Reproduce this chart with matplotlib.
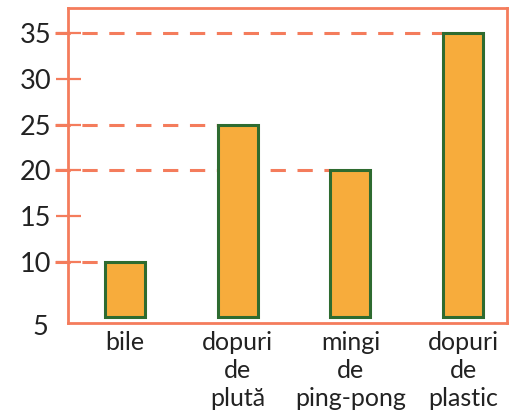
import matplotlib
matplotlib.use("Agg")
import matplotlib.pyplot as plt
import numpy as np

plt.rcParams['font.family'] = ['Lato', 'DejaVu Sans']

categories = ['bile', 'dopuri\nde\nplută', 'mingi\nde\nping-pong', 'dopuri\nde\nplastic']
values = [10, 25, 20, 35]
yticks = [10, 15, 20, 25, 30, 35]
base = 4.0          # bars start just above the broken axis bottom
ymin, ymax = 3.34, 37.73

red = '#F47C5C'
orange = '#F7AC3C'
green = '#2E6B30'
text = '#222222'

fig = plt.figure(figsize=(5.21, 4.19), dpi=100)
ax = fig.add_axes([0.1305, 0.229, 0.8426, 0.752])

x = np.arange(len(values))
width = 0.355
ax.bar(x, np.array(values) - base, bottom=base, width=width,
       color=orange, edgecolor=green, linewidth=2.2, zorder=3)

ax.set_xlim(-0.506, 3.39)
ax.set_ylim(ymin, ymax)

# dashed guide lines from outside the axis to the left edge of each bar
x0 = ax.get_xlim()[0] - 0.115
for xi, v in zip(x, values):
    ax.plot([x0, xi - width / 2], [v, v], color=red, lw=2.2,
            dashes=(5, 3.8), clip_on=False, zorder=2)

for s in ax.spines.values():
    s.set_color(red)
    s.set_linewidth(2)

ax.set_yticks(yticks)
ax.set_yticklabels([str(t) for t in yticks], fontsize=19.5, color=text)
ax.tick_params(axis='y', direction='inout', length=18, width=1.6,
               color=red, pad=3)
ax.text(-0.045, -0.015, '5', transform=ax.transAxes, ha='right', va='center',
        fontsize=19.5, color=text)

ax.set_xticks(x)
ax.set_xticklabels(categories, fontsize=18, color=text, linespacing=1.25)
ax.tick_params(axis='x', length=0, pad=6)

fig.savefig('out.png', dpi=100)
